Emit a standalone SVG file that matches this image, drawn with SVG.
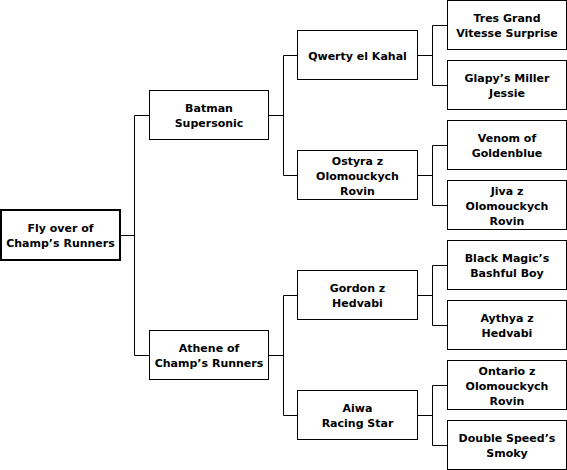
<svg xmlns="http://www.w3.org/2000/svg" width="567" height="470" viewBox="0 0 567 470">
<style>
rect.b{fill:#fff;stroke:#000;stroke-width:1}
rect.r{fill:#fff;stroke:#000;stroke-width:2}
text{font-family:"DejaVu Sans",Verdana,sans-serif;font-weight:bold;font-size:11px;fill:#000;text-anchor:middle}
.c{fill:none;stroke:#000;stroke-width:1}
</style>
<rect width="567" height="470" fill="#fff"/>
<g id="connectors" class="c">
<path d="M120 235.5H134.5M134.5 115.5V355.5M134.5 115.5H149.5M134.5 355.5H149.5"/>
<path d="M268.5 115.5H283.5M283.5 55.5V175.5M283.5 55.5H297.5M283.5 175.5H297.5"/>
<path d="M268.5 355.5H283.5M283.5 295.5V415.5M283.5 295.5H297.5M283.5 415.5H297.5"/>
<path d="M417.5 55.5H432.5M432.5 25.5V85.5M432.5 25.5H447.5M432.5 85.5H447.5"/>
<path d="M417.5 175.5H432.5M432.5 145.5V205.5M432.5 145.5H447.5M432.5 205.5H447.5"/>
<path d="M417.5 295.5H432.5M432.5 265.5V325.5M432.5 265.5H447.5M432.5 325.5H447.5"/>
<path d="M417.5 415.5H432.5M432.5 385.5V445.5M432.5 385.5H447.5M432.5 445.5H447.5"/>
</g>
<g id="n-root"><rect class="r" x="1" y="210" width="119" height="50"/><text x="60.5" y="232">Fly over of</text><text x="60.5" y="247">Champ’s Runners</text></g>
<g id="n-batman"><rect class="b" x="149.5" y="90.5" width="119" height="49"/><text x="209" y="112">Batman</text><text x="209" y="127">Supersonic</text></g>
<g id="n-athene"><rect class="b" x="149.5" y="330.5" width="119" height="49"/><text x="209" y="352">Athene of</text><text x="209" y="367">Champ’s Runners</text></g>
<g id="n-qwerty"><rect class="b" x="297.5" y="30.5" width="120" height="49"/><text x="357.5" y="59.5">Qwerty el Kahal</text></g>
<g id="n-ostyra"><rect class="b" x="297.5" y="150.5" width="120" height="49"/><text x="357.5" y="165">Ostyra z</text><text x="357.5" y="180">Olomouckych</text><text x="357.5" y="195">Rovin</text></g>
<g id="n-gordon"><rect class="b" x="297.5" y="270.5" width="120" height="49"/><text x="357.5" y="292">Gordon z</text><text x="357.5" y="307">Hedvabi</text></g>
<g id="n-aiwa"><rect class="b" x="297.5" y="390.5" width="120" height="49"/><text x="357.5" y="412">Aiwa</text><text x="357.5" y="427">Racing Star</text></g>
<g id="n-tres"><rect class="b" x="447.5" y="0.5" width="119" height="49"/><text x="507" y="22">Tres Grand</text><text x="507" y="37">Vitesse Surprise</text></g>
<g id="n-glapy"><rect class="b" x="447.5" y="60.5" width="119" height="49"/><text x="507" y="82">Glapy’s Miller</text><text x="507" y="97">Jessie</text></g>
<g id="n-venom"><rect class="b" x="447.5" y="120.5" width="119" height="49"/><text x="507" y="142">Venom of</text><text x="507" y="157">Goldenblue</text></g>
<g id="n-jiva"><rect class="b" x="447.5" y="180.5" width="119" height="49"/><text x="507" y="195">Jiva z</text><text x="507" y="210">Olomouckych</text><text x="507" y="225">Rovin</text></g>
<g id="n-black"><rect class="b" x="447.5" y="240.5" width="119" height="49"/><text x="507" y="262">Black Magic’s</text><text x="507" y="277">Bashful Boy</text></g>
<g id="n-aythya"><rect class="b" x="447.5" y="300.5" width="119" height="49"/><text x="507" y="322">Aythya z</text><text x="507" y="337">Hedvabi</text></g>
<g id="n-ontario"><rect class="b" x="447.5" y="360.5" width="119" height="49"/><text x="507" y="375">Ontario z</text><text x="507" y="390">Olomouckych</text><text x="507" y="405">Rovin</text></g>
<g id="n-double"><rect class="b" x="447.5" y="420.5" width="119" height="49"/><text x="507" y="442">Double Speed’s</text><text x="507" y="457">Smoky</text></g>
</svg>
